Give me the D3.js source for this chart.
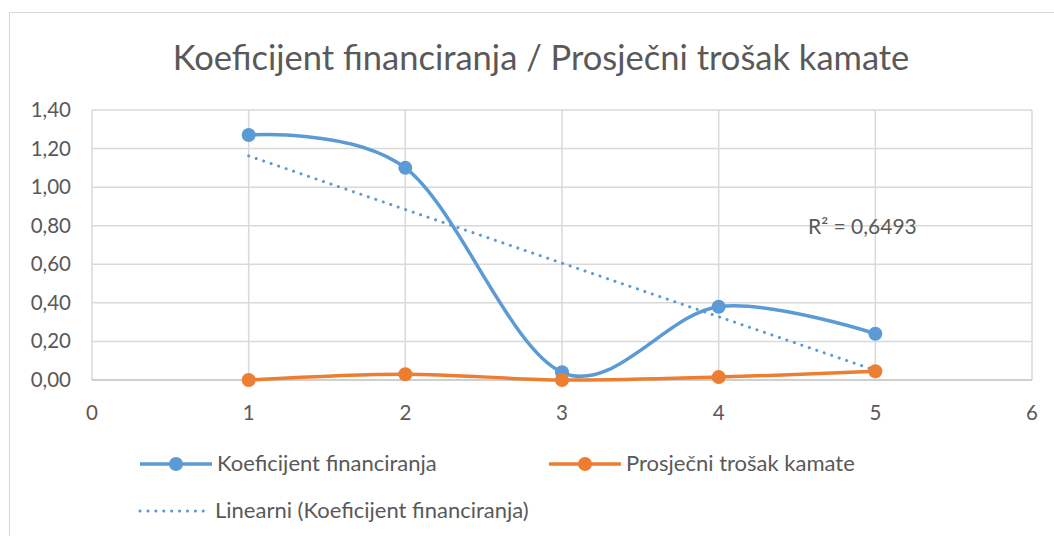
<!DOCTYPE html>
<html>
<head>
<meta charset="utf-8">
<script src="https://cdn.jsdelivr.net/npm/d3@7"></script>
<style>
  body { margin: 0; background: #fff; }
  svg { display: block; font-family: Lato, "Open Sans", sans-serif; }
</style>
</head>
<body>
<div id="chart"></div>
<script>
// data
const periods = [1, 2, 3, 4, 5];
const koeficijent = [1.27, 1.10, 0.04, 0.38, 0.24];
const trosak = [0.00, 0.03, 0.00, 0.015, 0.045];
const yTicks = [0, 0.2, 0.4, 0.6, 0.8, 1.0, 1.2, 1.4];
const xTicks = [0, 1, 2, 3, 4, 5, 6];

const width = 1054, height = 536;
const margin = {left: 92, right: 22, top: 110, bottom: 156};

const svg = d3.select("#chart").append("svg")
  .attr("width", width)
  .attr("height", height);

// chart border
svg.append("rect")
  .attr("x", 9.5).attr("y", 12.5)
  .attr("width", 1100).attr("height", 600)
  .attr("fill", "none").attr("stroke", "#d9d9d9");

const x = d3.scaleLinear().domain([0, 6]).range([margin.left, width - margin.right]);
const y = d3.scaleLinear().domain([0, 1.4]).range([height - margin.bottom, margin.top]);

const fmt = d => d3.format(".2f")(d).replace(".", ",");

// gridlines
svg.append("g").selectAll("line.h").data(yTicks.slice(1)).enter().append("line")
  .attr("x1", x(0)).attr("x2", x(6))
  .attr("y1", d => y(d)).attr("y2", d => y(d))
  .attr("stroke", "#d9d9d9").attr("stroke-width", 1.5);
svg.append("g").selectAll("line.v").data(xTicks).enter().append("line")
  .attr("x1", d => x(d)).attr("x2", d => x(d))
  .attr("y1", y(0)).attr("y2", y(1.4))
  .attr("stroke", "#d9d9d9").attr("stroke-width", 1.5);

// x axis line
svg.append("line")
  .attr("x1", x(0)).attr("x2", x(6))
  .attr("y1", y(0)).attr("y2", y(0))
  .attr("stroke", "#bfbfbf").attr("stroke-width", 1.5);

// tick labels
svg.append("g").selectAll("text").data(yTicks).enter().append("text")
  .attr("x", 71).attr("y", d => y(d) + 7)
  .attr("text-anchor", "end")
  .attr("font-size", 20.5).attr("fill", "#595959")
  .text(fmt);
svg.append("g").selectAll("text").data(xTicks).enter().append("text")
  .attr("x", d => x(d)).attr("y", 420)
  .attr("text-anchor", "middle")
  .attr("font-size", 20.5).attr("fill", "#595959")
  .text(d => d);

// title
svg.append("text")
  .attr("x", 541).attr("y", 70)
  .attr("text-anchor", "middle")
  .attr("font-size", 34.5).attr("fill", "#595959")
  .text("Koeficijent financiranja / Prosječni trošak kamate");

// linear trendline from least squares
const mx = d3.mean(periods), my = d3.mean(koeficijent);
const slope = d3.sum(periods, (p, i) => (p - mx) * (koeficijent[i] - my)) /
              d3.sum(periods, p => (p - mx) * (p - mx));
const icpt = my - slope * mx;

svg.append("line")
  .attr("x1", x(1)).attr("y1", y(icpt + slope * 1))
  .attr("x2", x(5)).attr("y2", y(icpt + slope * 5))
  .attr("stroke", "#5b9bd5").attr("stroke-width", 3)
  .attr("stroke-dasharray", "0.1 7.8").attr("stroke-linecap", "round");

const line = d3.line()
  .x((d, i) => x(periods[i]))
  .y(d => y(d))
  .curve(d3.curveCatmullRom.alpha(0));

function series(vals, color) {
  svg.append("path").datum(vals)
    .attr("d", line)
    .attr("fill", "none").attr("stroke", color).attr("stroke-width", 3.5);
  svg.append("g").selectAll("circle").data(vals).enter().append("circle")
    .attr("cx", (d, i) => x(periods[i]))
    .attr("cy", d => y(d))
    .attr("r", 7)
    .attr("fill", color);
}
series(koeficijent, "#5b9bd5");
series(trosak, "#ed7d31");

// R squared label
svg.append("text")
  .attr("x", 808).attr("y", 234)
  .attr("font-size", 21).attr("fill", "#595959")
  .text("R² = 0,6493");

// legend
function legendLine(lx, ly, color, label, dotted) {
  const l = svg.append("line")
    .attr("x1", lx).attr("x2", lx + 72)
    .attr("y1", ly).attr("y2", ly)
    .attr("stroke", color).attr("stroke-width", 3.5);
  if (dotted) {
    l.attr("stroke-width", 3).attr("stroke-dasharray", "0.1 7.8").attr("stroke-linecap", "round")
      .attr("x1", lx + 2).attr("x2", lx + 72);
  } else {
    svg.append("circle").attr("cx", lx + 36).attr("cy", ly).attr("r", 7).attr("fill", color);
  }
  svg.append("text")
    .attr("x", lx + 77).attr("y", ly + 7)
    .attr("font-size", 22).attr("fill", "#595959")
    .text(label);
}
legendLine(140, 464, "#5b9bd5", "Koeficijent financiranja", false);
legendLine(549, 464, "#ed7d31", "Prosječni trošak kamate", false);
legendLine(138, 511, "#5b9bd5", "Linearni (Koeficijent financiranja)", true);
</script>
</body>
</html>
